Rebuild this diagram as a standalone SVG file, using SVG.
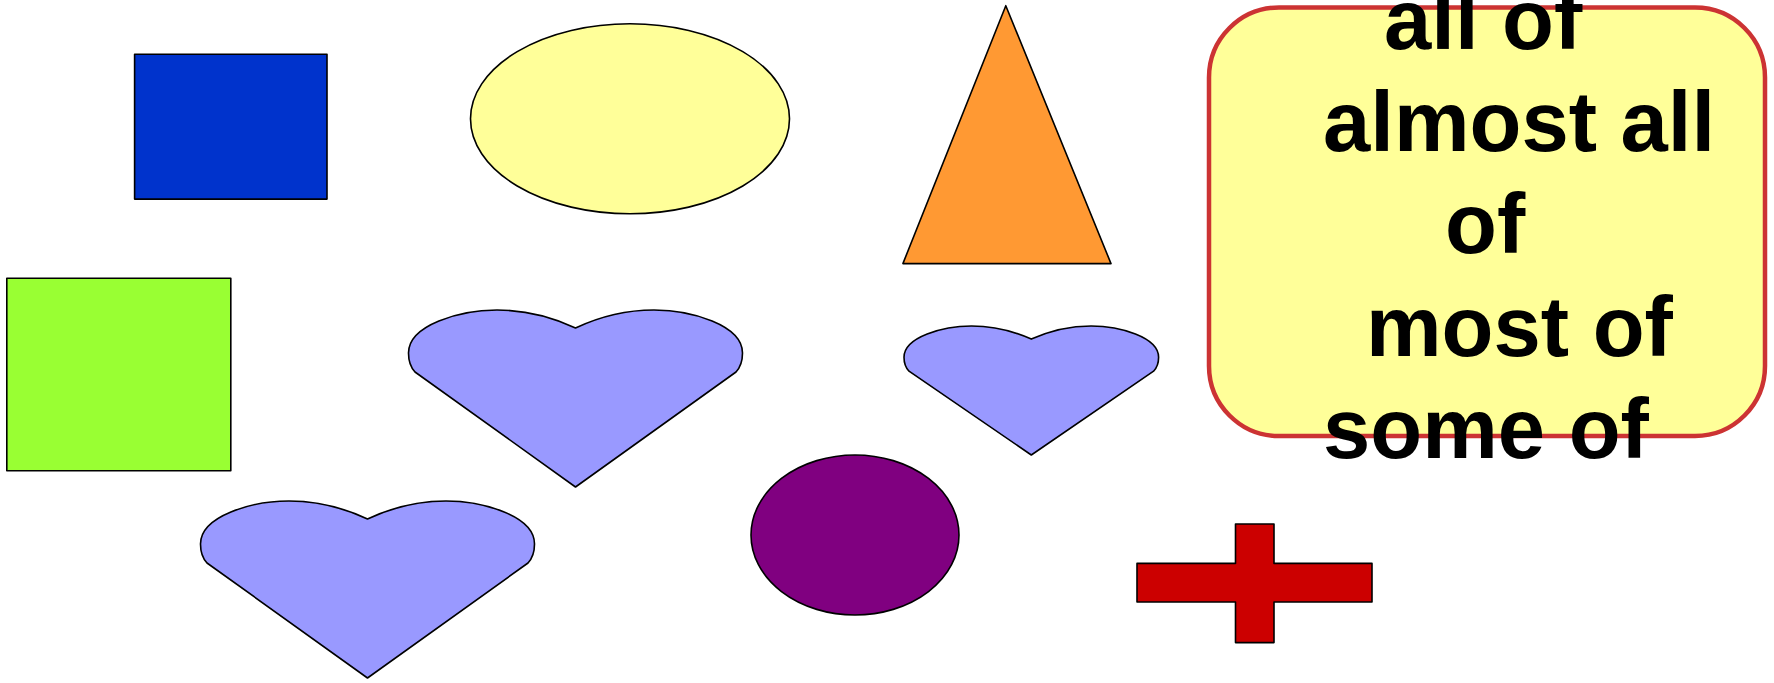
<svg xmlns="http://www.w3.org/2000/svg" width="1774" height="683" viewBox="0 0 1774 683">
<style>
.s{stroke:#000;stroke-width:1.6;stroke-linejoin:round}
.heart{fill:#9999FF}
.t{font-family:"Liberation Sans",Arial,sans-serif;font-weight:bold;font-size:85px;fill:#000}
</style>
<defs>
<path id="heartShape" d="M575.5 328 C550 316 525 310 497 310 C460 310 408.5 325 408.5 353 Q408.5 365 415 372 L575.5 487 L736 372 Q742.5 365 742.5 353 C742.5 325 691 310 654 310 C626 310 601 316 575.5 328 Z"/>
</defs>
<rect width="1774" height="683" fill="#fff"/>
<g id="blue-rect"><rect class="s" x="134.6" y="54.3" width="192.4" height="144.8" fill="#0033CC"/></g>
<g id="yellow-ellipse"><ellipse class="s" cx="630" cy="118.8" rx="159.5" ry="95" fill="#FFFF99"/></g>
<g id="orange-triangle"><polygon class="s" points="1005.8,5.7 1111,263.6 902.9,263.6" fill="#FF9933"/></g>
<g id="green-square"><rect class="s" x="6.8" y="278.3" width="224" height="192.4" fill="#99FF33"/></g>
<g id="heart1"><use href="#heartShape" class="s heart"/></g>
<g id="heart2"><path class="s heart" d="M1031.3 339.1 C1011.9 330.4 992.8 326 971.5 326 C943.3 326 904 336.9 904 357.3 Q904 366.1 909 371.2 L1031.3 455 L1153.6 371.2 Q1158.6 366.1 1158.6 357.3 C1158.6 336.9 1119.3 326 1091.1 326 C1069.8 326 1050.7 330.4 1031.3 339.1 Z"/></g>
<g id="heart3"><use href="#heartShape" class="s heart" transform="translate(-208 191)"/></g>
<g id="purple-ellipse"><ellipse class="s" cx="855" cy="535" rx="104" ry="80" fill="#800080"/></g>
<g id="red-cross"><polygon class="s" fill="#CC0000" points="1235.5,524 1274,524 1274,563.4 1372,563.4 1372,602 1274,602 1274,642.6 1235.5,642.6 1235.5,602 1137,602 1137,563.4 1235.5,563.4"/></g>
<g id="text-box">
<rect x="1209" y="7.5" width="556" height="428.5" rx="70" ry="70" fill="#FFFF99" stroke="#CC3333" stroke-width="4.5"/>
<text class="t"><tspan x="1384" y="48.6">all of</tspan><tspan x="1323" y="150.5">almost all</tspan><tspan x="1445" y="253.4">of</tspan><tspan x="1366" y="356.4">most of</tspan><tspan x="1323" y="458">some of</tspan></text>
</g>
<g id="connectors"/>
</svg>
